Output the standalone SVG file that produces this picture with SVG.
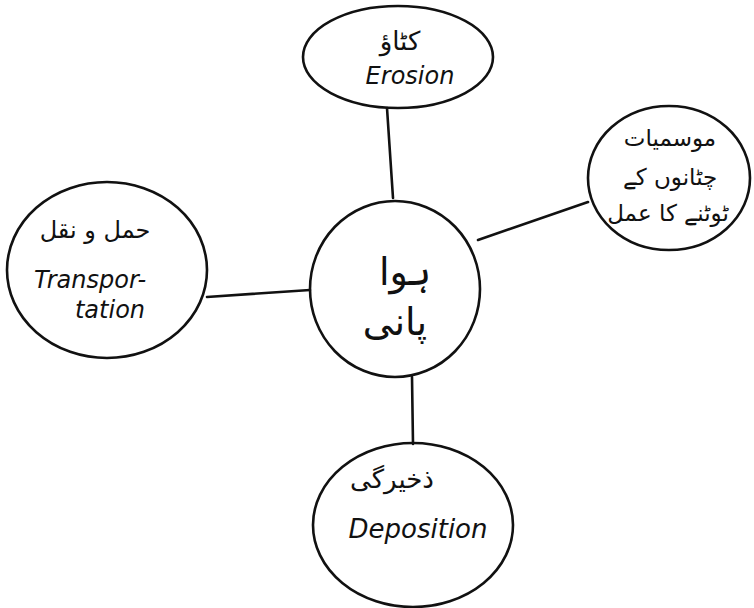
<svg xmlns="http://www.w3.org/2000/svg" width="754" height="608" viewBox="0 0 754 608">
<style>
.n{fill:none;stroke:#111;stroke-width:2.6}
.c{stroke:#111;stroke-width:2.6;fill:none;stroke-linecap:round}
.u{font-family:"DejaVu Sans",sans-serif;font-size:24px;fill:#111;text-anchor:middle}
.e{font-family:"DejaVu Sans",sans-serif;font-style:italic;font-size:22px;fill:#111;text-anchor:middle}
</style>
<rect width="754" height="608" fill="#fff"/>
<g id="connectors">
<line class="c" x1="387" y1="108" x2="393" y2="198"/>
<line class="c" x1="478" y1="240" x2="588" y2="202"/>
<line class="c" x1="207" y1="297" x2="310" y2="290"/>
<line class="c" x1="412" y1="377" x2="413" y2="444"/>
</g>
<g id="erosion">
<ellipse class="n" cx="398" cy="57" rx="95" ry="51"/>
<text class="u" x="400" y="50" style="font-size:26px" direction="rtl">کٹاؤ</text>
<text class="e" x="410" y="84" style="font-size:24px">Erosion</text>
</g>
<g id="weathering">
<ellipse class="n" cx="669" cy="178" rx="81" ry="72"/>
<text class="u" x="670" y="146" style="font-size:23px" direction="rtl">موسمیات</text>
<text class="u" x="670" y="185" style="font-size:23px" direction="rtl">چٹانوں کے</text>
<text class="u" x="668" y="221" style="font-size:23px" direction="rtl">ٹوٹنے کا عمل</text>
</g>
<g id="transportation">
<ellipse class="n" cx="107" cy="270" rx="100" ry="88"/>
<text class="u" x="95" y="238" style="font-size:24px" direction="rtl">حمل و نقل</text>
<text class="e" x="90" y="288" style="font-size:24px">Transpor-</text>
<text class="e" x="110" y="318" style="font-size:24px">tation</text>
</g>
<g id="center">
<ellipse class="n" cx="395" cy="289" rx="85" ry="88"/>
<text class="u" x="405" y="285" style="font-size:38px" direction="rtl">ہوا</text>
<text class="u" x="395" y="335" style="font-size:38px" direction="rtl">پانی</text>
</g>
<g id="deposition">
<ellipse class="n" cx="413" cy="525" rx="100" ry="82"/>
<text class="u" x="392" y="488" style="font-size:26px" direction="rtl">ذخیرگی</text>
<text class="e" x="418" y="538" style="font-size:26px">Deposition</text>
</g>
</svg>
